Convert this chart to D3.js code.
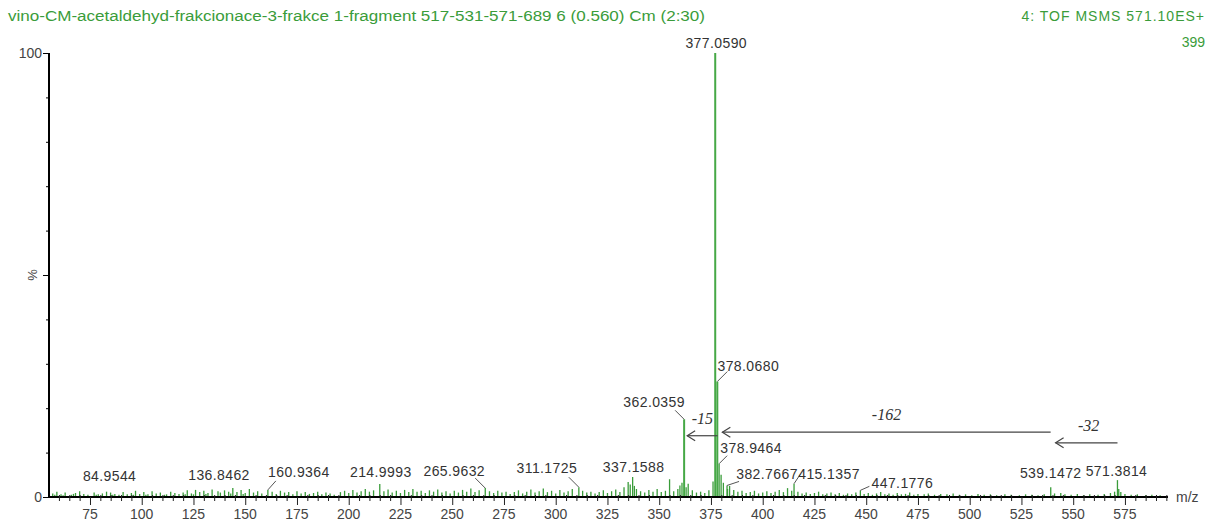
<!DOCTYPE html>
<html>
<head>
<meta charset="utf-8">
<script src="https://cdn.jsdelivr.net/npm/d3@7"></script>
<style>
body { margin: 0; background: #fff; }
svg { display: block; font-family: "Liberation Sans", Arial, sans-serif; }
</style>
</head>
<body>
<svg id="graph" width="1208" height="524"></svg>
<script>
var titleText = "vino-CM-acetaldehyd-frakcionace-3-frakce 1-fragment 517-531-571-689 6 (0.560) Cm (2:30)"
var headerRight = ["4: TOF MSMS 571.10ES+", "399"]

// labelled peaks [m/z, %]
var peaks = [
    [84.9544, 1.0], [136.8462, 1.3], [160.9364, 1.6], [214.9993, 2.9],
    [265.9632, 2.0], [311.1725, 2.2], [337.1588, 4.5], [362.0359, 17.5],
    [377.0590, 100], [378.0680, 26], [378.9464, 7.5], [382.7667, 2.6],
    [415.1357, 3.0], [447.1776, 1.5], [539.1472, 2.2], [571.3814, 3.8]
]

// unlabelled small peaks [m/z, %]
var noise = [
[57,0.8],[58,0.5],[59,1.2],[61,0.6],[62,0.4],[63,1.0],[66,0.5],[67,0.7],[68,0.9],[70,1.3],[72,0.7],[74,0.5],[77,1.0],
[78,0.5],[79,0.6],[81,0.8],[83,1.2],[86,0.5],[87,0.7],[89,0.5],[91,1.1],[93,0.6],[95,0.9],[96,0.5],[97,1.4],[99,0.7],
[101,1.1],[102,0.5],[103,0.6],[105,1.3],[107,0.8],[109,1.0],[111,0.5],[112,0.6],[114,1.2],[116,0.9],[118,0.7],[120,1.0],
[121,0.6],[122,1.5],[124,0.8],[125,0.6],[126,1.6],[128,1.1],[130,1.4],[131,0.7],[132,0.9],[134,1.7],[138,1.0],[140,1.5],[142,1.2],
[143,0.8],[144,2.0],[146,1.1],[148,1.6],[149,0.7],[150,0.9],[152,1.8],[154,1.0],[156,1.3],[158,0.8],[163,1.2],[165,0.7],
[167,1.4],[169,1.0],[171,1.1],[173,0.6],[175,1.3],[177,0.8],[179,1.1],[181,0.7],[183,0.9],[185,1.2],
[187,0.6],[189,1.0],[191,0.8],[193,0.5],[196,1.1],[198,1.4],[200,0.9],[202,1.6],[204,1.0],[206,1.3],
[208,1.8],[210,1.2],[212,1.5],[217,1.3],[219,1.7],[221,1.0],[223,1.4],[225,0.9],[227,1.6],[229,1.1],
[231,1.8],[233,1.2],[235,1.4],[237,0.9],[239,1.5],[241,1.2],[243,1.7],[245,1.0],[247,1.3],[249,0.8],
[251,1.4],[253,1.0],[255,1.6],[257,1.2],[259,1.9],[261,1.1],[263,1.5],[268,1.3],[270,0.9],[272,1.4],
[274,1.0],[276,1.2],[278,0.7],[280,1.1],[282,1.5],[284,0.8],[286,1.2],[288,1.7],[290,1.0],[292,1.3],
[294,1.9],[296,1.1],[298,1.4],[300,0.8],[302,1.6],[304,1.0],[306,1.3],[308,1.8],[313,1.4],[315,1.0],
[317,1.2],[319,0.8],[321,1.1],[323,1.5],[325,0.9],[327,1.3],[329,1.7],[331,1.1],[333,2.2],[335,3.4],
[336,2.8],[338,2.5],[339,1.8],[341,1.3],[343,1.0],[345,1.6],[347,1.2],[349,1.8],[351,1.1],[353,1.4],
[355,4.0],[357,1.3],[359,1.8],[360,2.6],[361,3.2],[363,2.2],[364,3.0],[366,1.5],[368,1.0],[370,1.2],
[372,0.9],[374,1.5],[376,3.5],[379.9,5.0],[381,3.2],[383,1.8],[384,2.5],[386,1.6],[388,1.2],[390,1.4],
[392,0.9],[394,1.1],[396,1.4],[398,0.8],[400,1.0],[402,1.3],[404,0.9],[406,1.2],[408,1.6],[410,1.1],
[412,2.0],[414,1.4],[417,1.2],[419,0.8],[421,1.0],[423,0.7],[425,0.9],[427,1.2],[429,0.6],[431,0.8],
[433,1.0],[435,0.6],[437,0.9],[439,0.5],[441,0.8],[443,0.6],[445,1.0],[449,0.7],[451,0.9],[453,0.5],
[455,0.8],[457,1.1],[459,0.6],[461,0.8],[463,0.5],[465,0.9],[467,0.6],[469,0.7],[471,1.0],[473,0.5],
[475,0.7],[478,0.6],[480,0.8],[483,0.5],[486,0.7],[489,0.6],[492,0.8],[495,0.5],[498,0.6],[501,0.4],
[504,0.7],[507,0.5],[510,0.6],[513,0.4],[517,0.6],[520,0.5],[524,0.4],[527,0.6],[530,0.5],[533,0.4],
[536,0.6],[541,0.8],[544,0.9],[546,0.6],[549,0.5],[552,0.7],[555,0.4],[558,0.6],[562,0.5],[565,0.7],
[568,0.9],[570,1.2],[572,1.8],[573,1.1],[575,0.7],[578,0.5],[581,0.6],[585,0.4],[588,0.5],[592,0.4]
]

// neutral losses [from m/z, to m/z, text]
var losses = [
    [378.2, 363.5, "-15"],
    [539.1, 380.5, "-162"],
    [571.4, 541.5, "-32"]
]

var xTicks = d3.range(75, 576, 25)

// label offsets (px) from peak top: dx of text centre, dy of baseline, leader end
var labelPos = {
    "84.9544":  { dx: -1, dy: -12 },
    "136.8462": { dx: 1, dy: -11 },
    "160.9364": { dx: 31, dy: -13, lx: 8, ly: -9 },
    "214.9993": { dx: 1, dy: -7 },
    "265.9632": { dx: -31, dy: -12, lx: -10, ly: -10 },
    "311.1725": { dx: -32, dy: -14, lx: -10, ly: -10 },
    "337.1588": { dx: 1, dy: -5 },
    "362.0359": { dx: -30, dy: -12, lx: -9, ly: -9 },
    "377.0590": { dx: 1, dy: -5 },
    "378.0680": { dx: 31, dy: -11, lx: 10, ly: -10 },
    "378.9464": { dx: 32, dy: -11, lx: 8, ly: -8 },
    "382.7667": { dx: 40, dy: -6, lx: 12, ly: -4 },
    "415.1357": { dx: 35, dy: -5, lx: 6, ly: -9 },
    "447.1776": { dx: 42, dy: -2, lx: 9, ly: -4 },
    "539.1472": { dx: 0, dy: -9 },
    "571.3814": { dx: -1, dy: -4 }
}
var lossY = { "-15": 13.8, "-162": 14.6, "-32": 12.2 }

var svg = d3.select("#graph")
var x = d3.scaleLinear().domain([55.2, 595.8]).range([49, 1168])
var y = d3.scaleLinear().domain([0, 100]).range([497, 53])

var green = "#3a9c3a"
var textCol = "#333"

// header
svg.append("text").attr("x", 8).attr("y", 21)
    .attr("font-size", 14).attr("fill", green)
    .attr("textLength", 697).attr("lengthAdjust", "spacingAndGlyphs").text(titleText)
svg.append("text").attr("x", 1205).attr("y", 21)
    .attr("text-anchor", "end").attr("font-size", 14).attr("fill", green)
    .attr("letter-spacing", 1).text(headerRight[0])
svg.append("text").attr("x", 1205).attr("y", 47)
    .attr("text-anchor", "end").attr("font-size", 14).attr("fill", green).text(headerRight[1])

// spectrum
var all = noise.concat(peaks)
svg.selectAll(".stick")
    .data(all)
    .enter().append("line")
    .attr("class", "stick")
    .attr("x1", d => x(d[0])).attr("x2", d => x(d[0]))
    .attr("y1", y(0)).attr("y2", d => y(d[1]))
    .attr("stroke", d => d[1] > 10 ? "#46a846" : green)
    .attr("stroke-width", d => d[1] > 10 ? 2 : 1.3)

// axes
var yAxis = svg.append("g").attr("transform", "translate(49,0)")
yAxis.call(d3.axisLeft(y).tickValues(d3.range(0, 101, 10)).tickSize(3).tickFormat(""))
yAxis.selectAll(".tick line").filter(d => d % 50 == 0).attr("x2", -6)
yAxis.select(".domain").attr("stroke-width", 2).attr("d", "M0," + y(100) + "V" + y(0))
;[0, 100].forEach(v => {
    svg.append("text").attr("x", 42).attr("y", y(v) + 5)
        .attr("text-anchor", "end").attr("font-size", 14).attr("fill", "#444").text(v)
})
svg.append("text").attr("transform", "translate(37," + y(50) + ") rotate(-90)")
    .attr("text-anchor", "middle").attr("font-size", 13).attr("fill", "#444").text("%")

var xAxis = svg.append("g").attr("transform", "translate(0," + y(0) + ")")
xAxis.call(d3.axisBottom(x).tickValues(d3.range(60, 596, 5)).tickSize(4).tickFormat(""))
xAxis.selectAll(".tick line").attr("y1", -2).attr("stroke", "#222")
xAxis.selectAll(".tick").filter(d => xTicks.indexOf(d) >= 0).select("line").attr("y1", 0).attr("y2", 8)
xAxis.select(".domain").attr("stroke-width", 2).attr("d", "M49,0H1168")
xAxis.selectAll(".xl")
    .data(xTicks)
    .enter().append("text")
    .attr("class", "xl")
    .attr("x", d => x(d)).attr("y", 22)
    .attr("text-anchor", "middle").attr("font-size", 14).attr("fill", "#444")
    .text(d => d)
svg.append("text").attr("x", 1176).attr("y", y(0) + 5)
    .attr("font-size", 14).attr("fill", "#444").text("m/z")

// peak labels
peaks.forEach(p => {
    var key = p[0].toFixed(4)
    var o = labelPos[key]
    var px = x(p[0]), py = y(p[1])
    if (o.lx !== undefined) {
        svg.append("line").attr("x1", px).attr("y1", py)
            .attr("x2", px + o.lx).attr("y2", py + o.ly)
            .attr("stroke", "#555").attr("stroke-width", 1)
    }
    svg.append("text").attr("x", px + o.dx).attr("y", py + o.dy)
        .attr("text-anchor", "middle").attr("font-size", 14)
        .attr("letter-spacing", 0.4).attr("fill", textCol).text(key)
})

// neutral loss arrows
losses.forEach(l => {
    var ay = y(lossY[l[2]])
    var x1 = x(l[0]), x2 = x(l[1])
    svg.append("line").attr("x1", x1).attr("x2", x2).attr("y1", ay).attr("y2", ay)
        .attr("stroke", "#444").attr("stroke-width", 1.2)
    svg.append("path").attr("d", "M" + (x2 + 8) + "," + (ay - 5) + "L" + x2 + "," + ay + "L" + (x2 + 8) + "," + (ay + 5))
        .attr("fill", "none").attr("stroke", "#444").attr("stroke-width", 1.2)
    svg.append("text").attr("x", (x1 + x2) / 2 + (l[2] == "-32" ? 2 : 0)).attr("y", ay - 12)
        .attr("text-anchor", "middle").attr("font-family", "Liberation Serif, Times New Roman, serif")
        .attr("font-style", "italic").attr("font-size", 16).attr("fill", "#333").text(l[2])
})
</script>
</body>
</html>
